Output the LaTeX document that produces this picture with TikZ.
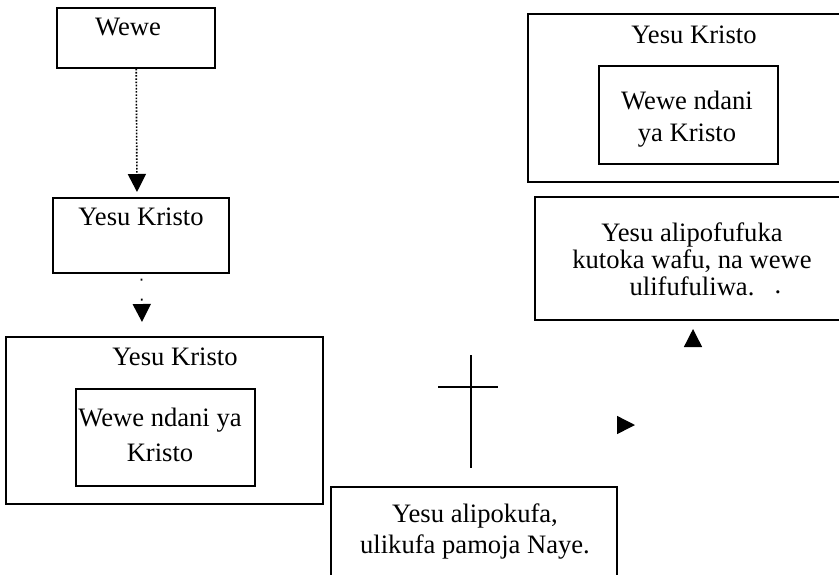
\documentclass[tikz,border=0pt]{standalone}
\usepackage{fontspec}
\setmainfont{Liberation Serif}
\usetikzlibrary{arrows.meta,positioning}

\begin{document}
\begin{tikzpicture}[x=0.5pt, y=-0.5pt, line width=0.7pt,
  box/.style = {draw, rectangle, inner sep=0pt},
  txt/.style = {align=center, inner sep=0pt, font=\fontsize{13.3}{15.5}\selectfont},
  head/.style = {-{Triangle[length=9pt, width=9pt]}}]
  \useasboundingbox (0,0) rectangle (839,574);
  \clip (0,0) rectangle (839,574);
  % left column
  \node[box, minimum width=79pt, minimum height=30pt] (wewe) at (136,38) {};
  \node[txt, anchor=north] (wewet) at (128,17) {Wewe};
  \node[box, minimum width=88pt, minimum height=37.5pt] (yesu) at (141,235.5) {};
  \node[txt, anchor=north] (yesut) at (141,207) {Yesu Kristo};
  \node[box, minimum width=158.5pt, minimum height=83.5pt] (outerL) at (164.5,420.5) {};
  \node[txt, anchor=north] (outerLt) at (175,347) {Yesu Kristo};
  \node[box, minimum width=89.5pt, minimum height=48.5pt] (innerL) at (165.5,437.5) {};
  \node[txt, anchor=north, font=\fontsize{13.3}{17.5}\selectfont] (innerLt) at (160,407) {Wewe ndani ya\\ Kristo};
  \coordinate (t1) at (137,192);
  \coordinate (t2) at (142,322);
  \draw[line width=0.8pt, dash pattern=on 0.8pt off 0.8pt, head] (wewe) -- (t1);
  \draw[line width=0.9pt, dash pattern=on 0pt off 2.5pt on 0.9pt off 6.6pt, head] (yesu) -- (t2);
  % cross and death
  \draw (471,355) -- (471,468);
  \draw (438,387) -- (498,387);
  \node[box, minimum width=143pt, minimum height=56.5pt] (kufa) at (474,543.5) {};
  \node[txt, anchor=north] (kufat) at (475,503) {Yesu alipokufa,\\ ulikufa pamoja Naye.};
  % right column
  \node[box, minimum width=186pt, minimum height=84pt] (outerR) at (714,98) {};
  \node[txt, anchor=north] (outerRt) at (694,25) {Yesu Kristo};
  \node[box, minimum width=89.5pt, minimum height=49pt] (innerR) at (688.5,115) {};
  \node[txt, anchor=north, font=\fontsize{13.3}{16}\selectfont] (innerRt) at (687,90) {Wewe ndani\\ ya Kristo};
  \node[box, minimum width=182.5pt, minimum height=61.5pt] (rise) at (717.5,258.5) {};
  \node[txt, anchor=north, font=\fontsize{13.3}{13.5}\selectfont] (riset) at (692,222) {Yesu alipofufuka\\ kutoka wafu, na wewe\\ ulifufuliwa.};
  \node[txt, anchor=base] (dot) at (778,293) {.};
  \coordinate (r0) at (617,425);
  \coordinate (r1) at (635,425);
  \draw[head] (r0) -- (r1);
  \coordinate (u0) at (693,344);
  \coordinate (u1) at (693,329);
  \draw[head] (u0) -- (u1);
\end{tikzpicture}
\end{document}
